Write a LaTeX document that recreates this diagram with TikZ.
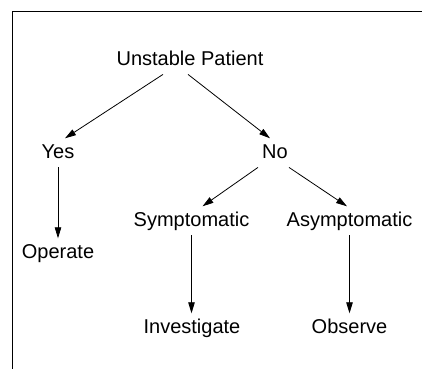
\documentclass[tikz,border=0pt]{standalone}
\usepackage{fontspec}
\setmainfont{Liberation Sans}
\usetikzlibrary{arrows.meta}

\begin{document}
\begin{tikzpicture}[x=1pt, y=-1pt,
	txt/.style={font=\fontsize{20}{24}\selectfont, anchor=base, inner xsep=0pt, inner ysep=5pt, text height=14.5pt, text depth=4.2pt},
	arr/.style={-{Triangle[length=11pt, width=6.5pt]}, line width=0.8pt}]

	\useasboundingbox (0,0) rectangle (422,369);

	% frame
	\draw[line width=1pt] (422,12) -- (12.5,12) -- (12.5,369);

	\node[txt] (unstable) at (190, 65) {Unstable Patient};

	\node[txt] (yes) at (58, 158) {Yes};
	\node[txt] (no) at (275, 158) {No};

	\node[txt] (operate) at (58, 258) {Operate};
	\node[txt] (sympt) at (191.5, 226) {Symptomatic};
	\node[txt] (asympt) at (349.5, 226) {Asymptomatic};

	\node[txt] (investigate) at (192, 333) {Investigate};
	\node[txt] (observe) at (349.5, 333) {Observe};

	\draw[arr] ([xshift=-27pt]unstable.south) -- ([xshift=7pt]yes.north);
	\draw[arr] ([xshift=-2pt]unstable.south) -- ([xshift=-5pt]no.north);

	\draw[arr] (yes.south) -- (operate.north);

	\draw[arr] ([xshift=-17pt]no.south) -- ([xshift=11pt]sympt.north);
	\draw[arr] ([xshift=14pt]no.south) -- ([xshift=-2.5pt]asympt.north);

	\draw[arr] (sympt.south) -- (sympt.south |- investigate.north);
	\draw[arr] (asympt.south) -- (observe.north);
\end{tikzpicture}
\end{document}
